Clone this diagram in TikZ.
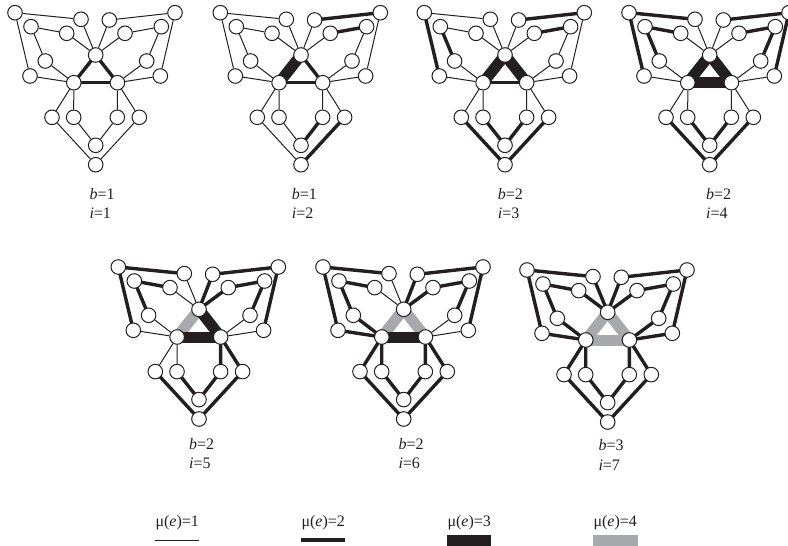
\documentclass[tikz,border=0pt]{standalone}
\usepackage{fontspec}
\setmainfont{Liberation Serif}
\usepackage{tikz}
\usetikzlibrary{backgrounds}

\definecolor{inkblack}{HTML}{231F20}
\definecolor{inkgrey}{HTML}{A7A9AC}

\tikzset{
  vertex/.style={circle, draw=inkblack, fill=white, line width=1pt, minimum size=14.6pt, inner sep=0pt},
  mone/.style={draw=inkblack, line width=1pt},
  mtwo/.style={draw=inkblack, line width=3.4pt, shorten <=-3pt, shorten >=-3pt},
  mthree/.style={draw=inkblack, line width=11pt, shorten <=-3pt, shorten >=-3pt},
  mfour/.style={draw=inkgrey, line width=11pt, shorten <=-3pt, shorten >=-3pt},
  lab/.style={font=\fontsize{16}{18}\selectfont, text=inkblack, anchor=base west, inner sep=0pt}
}

% #1 prefix, #2 shift, #3 heavier edges as u/v/style
\newcommand{\dualgraph}[3]{
  \begin{scope}[shift={#2}]
    \node[vertex] (#1T) at (0,0) {};
    \node[vertex] (#1A) at (-21.9,27.7) {};
    \node[vertex] (#1B) at (21.7,27.7) {};
    \node[vertex] (#1a) at (-80.7,-42.3) {};
    \node[vertex] (#1b) at (-14.7,-35.7) {};
    \node[vertex] (#1c) at (-64.7,-28.3) {};
    \node[vertex] (#1d) at (-29,-21.7) {};
    \node[vertex] (#1e) at (-50.4,6) {};
    \node[vertex] (#1f) at (-65.7,21) {};
    \node[vertex] (#1p) at (79.3,-42.3) {};
    \node[vertex] (#1q) at (13.6,-35) {};
    \node[vertex] (#1r) at (65.6,-28.3) {};
    \node[vertex] (#1s) at (29.3,-21.7) {};
    \node[vertex] (#1t) at (51,6) {};
    \node[vertex] (#1u) at (64.6,21) {};
    \node[vertex] (#1g) at (-43.7,62.3) {};
    \node[vertex] (#1h) at (-22,62.3) {};
    \node[vertex] (#1i) at (21.6,62.3) {};
    \node[vertex] (#1j) at (43.6,62.3) {};
    \node[vertex] (#1k) at (0,90.3) {};
    \node[vertex] (#1l) at (0,109.7) {};
    \begin{scope}[on background layer]
      \foreach \u/\v in {a/b,b/T,a/f,f/A,c/d,d/T,c/e,e/A,p/q,q/T,p/u,u/B,r/s,s/T,r/t,t/B,A/g,g/l,B/j,j/l,A/h,h/k,B/i,i/k}
        \draw[mone] (#1\u) -- (#1\v);
      \foreach \u/\v/\w in {#3}
        \draw[\w] (#1\u) -- (#1\v);
    \end{scope}
  \end{scope}
}

\begin{document}
\begin{tikzpicture}[x=1pt, y=-1pt]
  \useasboundingbox (0,0) rectangle (788,546);

  \dualgraph{one}{(95.7,55)}{T/A/mtwo,T/B/mtwo,A/B/mtwo}
  \dualgraph{two}{(301,55)}{T/A/mthree,T/B/mtwo,A/B/mtwo,p/q/mtwo,r/s/mtwo,i/k/mtwo,j/l/mtwo}
  \dualgraph{three}{(505,55)}{T/A/mthree,T/B/mthree,A/B/mtwo,a/f/mtwo,c/e/mtwo,p/q/mtwo,r/s/mtwo,g/l/mtwo,h/k/mtwo,i/k/mtwo,j/l/mtwo}
  \dualgraph{four}{(709.7,55)}{T/A/mthree,T/B/mthree,A/B/mthree,a/b/mtwo,a/f/mtwo,c/d/mtwo,c/e/mtwo,p/q/mtwo,p/u/mtwo,r/s/mtwo,r/t/mtwo,g/l/mtwo,h/k/mtwo,i/k/mtwo,j/l/mtwo}
  \dualgraph{five}{(199,309.3)}{T/A/mfour,T/B/mthree,A/B/mthree,a/b/mtwo,a/f/mtwo,c/d/mtwo,c/e/mtwo,p/q/mtwo,p/u/mtwo,r/s/mtwo,r/t/mtwo,q/T/mtwo,s/T/mtwo,B/i/mtwo,B/j/mtwo,g/l/mtwo,h/k/mtwo,i/k/mtwo,j/l/mtwo}
  \dualgraph{six}{(403.7,309.3)}{T/A/mfour,T/B/mfour,A/B/mthree,a/b/mtwo,a/f/mtwo,c/d/mtwo,c/e/mtwo,p/q/mtwo,p/u/mtwo,r/s/mtwo,r/t/mtwo,q/T/mtwo,s/T/mtwo,e/A/mtwo,f/A/mtwo,A/g/mtwo,A/h/mtwo,B/i/mtwo,B/j/mtwo,g/l/mtwo,h/k/mtwo,i/k/mtwo,j/l/mtwo}
  \dualgraph{seven}{(607.7,312.3)}{T/A/mfour,T/B/mfour,A/B/mfour,a/b/mtwo,b/T/mtwo,a/f/mtwo,f/A/mtwo,c/d/mtwo,d/T/mtwo,c/e/mtwo,e/A/mtwo,p/q/mtwo,q/T/mtwo,p/u/mtwo,u/B/mtwo,r/s/mtwo,s/T/mtwo,r/t/mtwo,t/B/mtwo,A/g/mtwo,g/l/mtwo,B/j/mtwo,j/l/mtwo,A/h/mtwo,h/k/mtwo,B/i/mtwo,i/k/mtwo}

  % captions
  \foreach \name/\x/\yb/\yi/\b/\i in {one/89.3/199/218.5/1/1, two/291.7/199/218.5/1/2, three/497.7/199/218.5/2/3, four/706/199/218.5/2/4, five/189/449/468.5/2/5, six/398.3/449/468.5/2/6, seven/598.3/450.3/470/3/7} {
    \node[lab] (\name capb) at (\x,\yb) {\textit{b}=\b};
    \node[lab] (\name capi) at (\x,\yi) {\textit{i}=\i};
  }

  % legend
  \node[lab] (legone) at (155.3,526) {μ(\textit{e})=1};
  \node[lab] (legtwo) at (301.3,526) {μ(\textit{e})=2};
  \node[lab] (legthree) at (447.3,526) {μ(\textit{e})=3};
  \node[lab] (legfour) at (593.3,526) {μ(\textit{e})=4};
  \coordinate (bara) at (155.3,540);
  \coordinate (barb) at (199,540);
  \coordinate (barc) at (301.3,540);
  \coordinate (bard) at (345.3,540);
  \coordinate (bare) at (447.3,540.5);
  \coordinate (barf) at (491.3,540.5);
  \coordinate (barg) at (593.3,540.5);
  \coordinate (barh) at (637.7,540.5);
  \draw[mone] (bara) -- (barb);
  \draw[draw=inkblack, line width=4pt] (barc) -- (bard);
  \draw[draw=inkblack, line width=11pt] (bare) -- (barf);
  \draw[draw=inkgrey, line width=11pt] (barg) -- (barh);
\end{tikzpicture}
\end{document}
